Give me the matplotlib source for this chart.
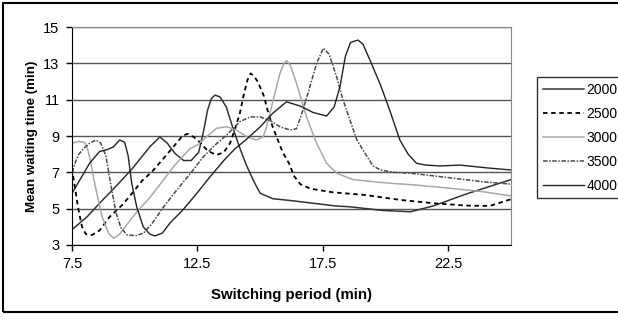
import matplotlib.pyplot as plt
from matplotlib.patches import Rectangle

plt.rcParams['font.family'] = ['Liberation Sans', 'DejaVu Sans']

x2000 = [7.5, 8.1, 8.6, 9.3, 9.9, 10.6, 11.0, 11.3, 11.6, 11.95, 12.25, 12.55, 12.75, 12.9, 13.05,
         13.2, 13.4, 13.65, 13.9, 14.2, 14.45, 14.75, 15.0, 15.5, 16.2, 17.1, 18.0, 18.6, 19.9,
         21.0, 21.9, 23.2, 24.1, 25.0]
y2000 = [3.85, 4.55, 5.3, 6.3, 7.2, 8.4, 8.95, 8.6, 8.05, 7.65, 7.65, 8.1, 9.3, 10.4, 11.05,
         11.25, 11.15, 10.6, 9.5, 8.3, 7.4, 6.5, 5.85, 5.55, 5.45, 5.3, 5.15, 5.1, 4.9,
         4.83, 5.15, 5.8, 6.2, 6.6]

x2500 = [7.5, 7.6, 7.75, 7.9, 8.05, 8.3, 8.6, 9.0, 9.5, 9.9, 10.3, 10.7, 11.2, 11.6, 11.9, 12.1,
         12.35, 12.6, 12.9, 13.25, 13.55, 13.8, 14.0, 14.2, 14.35, 14.5, 14.62, 14.75, 14.9, 15.15,
         15.3, 15.5, 15.7, 15.9, 16.15, 16.35, 16.6, 17.0, 17.9, 19.2, 20.6, 21.9, 23.2, 24.15, 25.0]
y2500 = [7.25, 6.3, 5.0, 4.0, 3.6, 3.55, 3.8, 4.55, 5.2, 5.85, 6.55, 7.05, 7.85, 8.5, 9.0, 9.12,
         8.95, 8.65, 8.2, 7.95, 8.1, 8.6, 9.4, 10.3, 11.3, 12.1, 12.45, 12.3, 12.0, 11.2,
         10.4, 9.5, 8.8, 8.1, 7.5, 6.8, 6.35, 6.1, 5.9, 5.75, 5.48, 5.3, 5.17, 5.15, 5.52]

x3000 = [7.5, 7.75, 8.0, 8.1, 8.23, 8.43, 8.7, 8.96, 9.16, 9.4, 9.7, 10.1, 10.6, 11.1, 11.6, 12.2,
         12.5, 12.87, 13.26, 13.66, 14.06, 14.46, 14.86, 15.12, 15.26, 15.52, 15.79, 15.95, 16.05,
         16.2, 16.45, 16.85, 17.25, 17.65, 18.05, 18.7, 19.9, 21.2, 22.6, 23.9, 25.0]
y3000 = [8.6, 8.7, 8.65, 8.4, 7.68, 6.2, 4.56, 3.64, 3.37, 3.6, 4.15, 4.85, 5.6, 6.5, 7.4, 8.3,
         8.5, 8.96, 9.42, 9.51, 9.33, 8.96, 8.78, 8.96, 9.51, 10.98, 12.45, 13.0, 13.15,
         12.9, 11.9, 10.05, 8.6, 7.5, 6.95, 6.6, 6.43, 6.3, 6.12, 5.93, 5.7]

x3500 = [7.5, 7.62, 7.75, 7.95, 8.2, 8.45, 8.65, 8.85, 9.05, 9.25, 9.45, 9.7, 10.05, 10.35, 10.7,
         11.1, 11.6, 12.2, 12.7, 13.2, 13.7, 14.2, 14.6, 15.0, 15.4, 15.8, 16.2, 16.45, 16.7, 16.98,
         17.25, 17.52, 17.75, 18.05, 18.3, 18.58, 18.85, 19.1, 19.5, 19.8, 20.3, 21.0, 22.2, 23.9, 25.0]
y3500 = [7.0, 7.5, 7.95, 8.3, 8.6, 8.78, 8.6, 7.9, 6.3, 4.8, 3.95, 3.55, 3.52, 3.65, 4.2,
         5.0, 5.9, 6.9, 7.8, 8.5, 9.1, 9.8, 10.05, 10.05, 9.85, 9.5, 9.33, 9.4, 10.4, 11.7,
         13.0, 13.83, 13.5, 12.26, 11.0, 9.88, 8.8, 8.23, 7.35, 7.13, 7.0, 6.95, 6.76, 6.48, 6.35]

x4000 = [7.5, 7.8, 8.2, 8.6, 8.9, 9.15, 9.4, 9.6, 9.74, 9.88, 10.08, 10.34, 10.6, 10.8, 11.1, 11.4,
         11.9, 12.45, 13.0, 13.55, 14.0, 14.4, 15.0, 15.5, 16.05, 16.6, 17.1, 17.65, 17.95, 18.18,
         18.4, 18.6, 18.9, 19.1, 19.37, 19.8, 20.17, 20.57, 20.9, 21.23, 21.6, 22.16, 22.96, 24.0, 25.0]
y4000 = [5.85, 6.55, 7.5, 8.15, 8.25, 8.4, 8.78, 8.65, 7.9, 6.4, 5.1, 4.0, 3.6, 3.5, 3.65, 4.2,
         4.9, 5.8, 6.75, 7.65, 8.3, 8.75, 9.5, 10.25, 10.88, 10.65, 10.3, 10.1, 10.6, 11.7,
         13.4, 14.15, 14.28, 14.05, 13.2, 11.8, 10.4, 8.78, 8.0, 7.5, 7.4, 7.35, 7.4, 7.25, 7.13]

labels = ['2000', '2500', '3000', '3500', '4000']

fig = plt.figure(figsize=(6.18, 3.2), dpi=100)
ax = fig.add_axes([72 / 618, 75 / 320, 439 / 618, 218 / 320])

ax.plot(x2000, y2000, color='#333333', lw=1.1, label=labels[0])
ax.plot(x2500, y2500, color='black', lw=1.3, ls=(0, (2.5, 2)), label=labels[1])
ax.plot(x3000, y3000, color='#a8a8a8', lw=1.1, label=labels[2])
ax.plot(x3500, y3500, color='#4a4a4a', lw=1.1, ls=(0, (3, 1, 1, 1)), label=labels[3])
ax.plot(x4000, y4000, color='#222222', lw=1.0, label=labels[4])

ax.set_xlim(7.5, 25)
ax.set_ylim(3, 15)
ax.set_xticks([7.5, 12.5, 17.5, 22.5])
ax.set_xticklabels(['7.5', '12.5', '17.5', '22.5'])
ax.set_yticks([3, 5, 7, 9, 11, 13, 15])
ax.yaxis.grid(True, color='#555555', lw=1)
ax.set_axisbelow(True)
ax.tick_params(labelsize=10.5, length=4, width=1, colors='black', pad=5)
for s in ['top', 'right']:
    ax.spines[s].set_color('#888888')
for s in ['left', 'bottom']:
    ax.spines[s].set_color('black')

ax.set_xlabel('Switching period (min)', fontsize=10.8, fontweight='bold', labelpad=12)
ax.set_ylabel('Mean waiting time (min)', fontsize=9.6, fontweight='bold', labelpad=4)

leg = ax.legend(loc='upper left', bbox_to_anchor=(537 / 618, 243 / 320), bbox_transform=fig.transFigure,
                frameon=True, fancybox=False, edgecolor='black', fontsize=10, handlelength=3.0,
                handletextpad=0.15, borderpad=0.4, labelspacing=0.72, borderaxespad=0)
leg.get_frame().set_linewidth(1)

fig.patches.append(Rectangle((3 / 618, 8 / 320), 1.2, 309 / 320, transform=fig.transFigure,
                             fill=False, edgecolor='black', lw=1.5))

fig.savefig('out.png', dpi=100)
